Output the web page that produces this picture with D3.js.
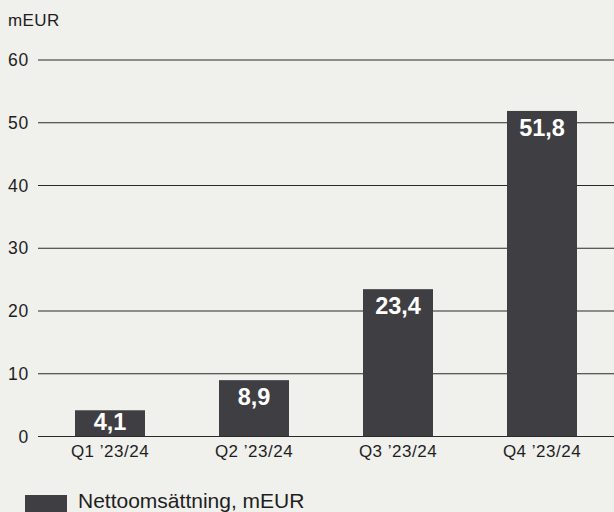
<!DOCTYPE html>
<html>
<head>
<meta charset="utf-8">
<script src="https://cdn.jsdelivr.net/npm/d3@7/dist/d3.min.js"></script>
<style>
  html, body { margin: 0; padding: 0; background: #f0f0ec; }
  svg { display: block; }
  text { font-family: "Liberation Sans", Arial, Helvetica, sans-serif; fill: #1e1e1e; }
</style>
</head>
<body>
<svg id="chart" width="614" height="512"></svg>
<script>
const categories = ["Q1 \u201923/24", "Q2 \u201923/24", "Q3 \u201923/24", "Q4 \u201923/24"];
const values = [4.1, 8.9, 23.4, 51.8];
const valueLabels = ["4,1", "8,9", "23,4", "51,8"];
const yTicks = [0, 10, 20, 30, 40, 50, 60];
const unitLabel = "mEUR";
const legendLabel = "Nettoomsättning, mEUR";

(function () {
const svg = d3.select("#chart");
const W = 614, H = 512;
const mLeft = 38, mRight = 614, mTop = 59.5, mBottom = 436;
const barColor = "#3f3f43";

svg.append("rect").attr("width", W).attr("height", H).attr("fill", "#f0f0ec");

const x = d3.scaleBand().domain(categories).range([mLeft, mRight])
  .paddingInner(74 / 144).paddingOuter(37 / 144);
const y = d3.scaleLinear().domain([0, 60]).range([mBottom, mTop]);

// gridlines + y labels via axis
const yAxis = d3.axisLeft(y).tickValues(yTicks).tickSize(-(mRight - mLeft)).tickPadding(8).tickFormat(d3.format("d"));
const gy = svg.append("g").attr("transform", `translate(${mLeft},0)`).call(yAxis);
gy.select(".domain").remove();
gy.selectAll(".tick line").attr("stroke", "#2a2a2a").attr("stroke-width", 1);
gy.selectAll(".tick text").attr("font-size", 17.5).attr("fill", "#1e1e1e")
  .attr("x", -(mLeft - 29)).attr("dy", "0.35em")
  .style("letter-spacing", "0.8px")
  .style("font-family", '"Liberation Sans", Arial, sans-serif');

// unit label
svg.append("text").attr("x", 8).attr("y", 26).attr("font-size", 17)
  .style("letter-spacing", "0.4px").text(unitLabel);

// bars
svg.append("g").selectAll("rect").data(values).join("rect")
  .attr("x", (d, i) => x(categories[i]))
  .attr("y", d => y(d))
  .attr("width", x.bandwidth())
  .attr("height", d => y(0) - y(d))
  .attr("fill", barColor);

// value labels
svg.append("g").selectAll("text").data(values).join("text")
  .attr("x", (d, i) => x(categories[i]) + x.bandwidth() / 2)
  .attr("y", d => Math.min(y(d) + 25, y(0) - 6))
  .attr("text-anchor", "middle")
  .attr("font-size", 23.5)
  .attr("font-weight", "bold")
  .style("fill", "#ffffff")
  .text((d, i) => valueLabels[i]);

// x axis labels
const xAxis = d3.axisBottom(x).tickSize(0).tickPadding(0);
const gx = svg.append("g").attr("transform", `translate(0,${mBottom})`).call(xAxis);
gx.select(".domain").remove();
gx.selectAll(".tick text").attr("font-size", 17).attr("fill", "#1e1e1e")
  .attr("y", 20.7).attr("dy", 0)
  .style("letter-spacing", "0.5px")
  .style("font-family", '"Liberation Sans", Arial, sans-serif');

// legend
svg.append("rect").attr("x", 25).attr("y", 495).attr("width", 42).attr("height", 18).attr("fill", barColor);
svg.append("text").attr("x", 78).attr("y", 507.5).attr("font-size", 21).text(legendLabel);
})();
</script>
</body>
</html>
